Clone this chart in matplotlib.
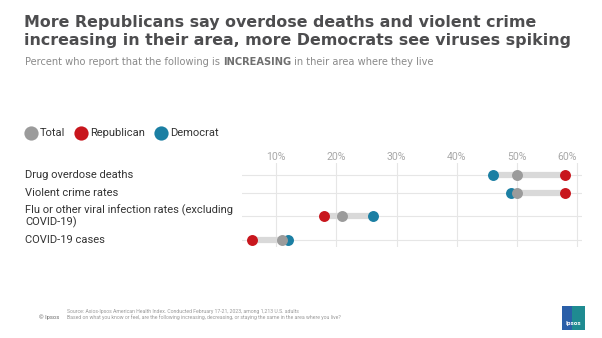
import matplotlib.pyplot as plt
from matplotlib.patches import Rectangle

# Share reporting each item is INCREASING in their area (%)
items = ['Drug overdose deaths', 'Violent crime rates',
         'Flu or other viral infection rates (excluding\nCOVID-19)', 'COVID-19 cases']
total = [50, 50, 21, 11]
republican = [58, 58, 18, 6]
democrat = [46, 49, 26, 12]
ticks = [10, 20, 30, 40, 50, 60]

GREY = '#9b9b9b'
RED = '#c8161d'
BLUE = '#1b7fa3'

plt.rcParams['font.family'] = ['Roboto', 'DejaVu Sans']

fig = plt.figure(figsize=(6.02, 3.38), dpi=100)
W, H = 602, 338

# overlay in pixel units for the text furniture
bg = fig.add_axes([0, 0, 1, 1])
bg.set_xlim(0, W)
bg.set_ylim(H, 0)
bg.axis('off')

# title and subtitle
title_lines = ['More Republicans say overdose deaths and violent crime',
               'increasing in their area, more Democrats see viruses spiking']
for y, line in zip([27.5, 45], title_lines):
    bg.text(24, y, line, family='DejaVu Sans', weight='bold', fontsize=11.4,
            color='#4d4d4f', va='baseline', ha='left')

t1 = bg.text(25, 65, 'Percent who report that the following is ',
             family='DejaVu Sans', fontsize=7.1, color='#8a8a8a', va='baseline')
fig.canvas.draw()
inv = bg.transData.inverted()
x1 = inv.transform((t1.get_window_extent().x1, 0))[0]
t2 = bg.text(x1, 65, 'INCREASING', family='DejaVu Sans', weight='bold',
             fontsize=7.1, color='#6f6f6f', va='baseline')
fig.canvas.draw()
x2 = inv.transform((t2.get_window_extent().x1, 0))[0]
bg.text(x2, 65, ' in their area where they live', family='DejaVu Sans',
        fontsize=7.1, color='#8a8a8a', va='baseline')

# legend
for cx, lab, col in [(31, 'Total', GREY), (81, 'Republican', RED), (161, 'Democrat', BLUE)]:
    bg.scatter([cx], [133], s=105, color=col, lw=0)
    bg.text(cx + 9, 133, lab, fontsize=8, color='#333333', va='center')

# row labels
row_y = [175, 193, 216, 240]
for y, lab in zip(row_y, items):
    bg.text(25, y, lab, fontsize=8.0, color='#333333', va='center', linespacing=1.1)

# footer
bg.text(39, 317, '© Ipsos', fontsize=4.2, color='#6b6b6b', va='center')
bg.text(67, 311, 'Source: Axios-Ipsos American Health Index. Conducted February 17-21, 2023, among 1,213 U.S. adults',
        fontsize=3.7, color='#9a9a9a', va='center')
bg.text(67, 317, 'Based on what you know or feel, are the following increasing, decreasing, or staying the same in the area where you live?',
        fontsize=3.7, color='#9a9a9a', va='center')

# logo
bg.add_patch(Rectangle((562, 306), 23, 24, color='#2a5fa8', lw=0))
bg.add_patch(Rectangle((572, 306), 13, 24, color='#1c9a8a', alpha=0.75, lw=0))
bg.text(573.5, 324, 'Ipsos', fontsize=4.6, color='white', weight='bold',
        ha='center', va='center')

# chart area (y in pixel rows)
ax = fig.add_axes([242 / W, 1 - 247 / H, (582 - 242) / W, (247 - 163) / H])
ax.set_xlim(4.3, 60.8)
ax.set_ylim(247, 163)
ax.patch.set_alpha(0)
for s in ax.spines.values():
    s.set_visible(False)
ax.xaxis.tick_top()
ax.set_xticks(ticks)
ax.set_xticklabels([f'{t}%' for t in ticks])
ax.get_xticklabels()[-1].set_ha('right')
ax.tick_params(axis='x', length=0, pad=1, labelsize=7.6, labelcolor='#a8a8a8')
ax.set_yticks([])
ax.grid(axis='x', color='#e6e6e6', lw=0.8)
ax.set_axisbelow(True)
for y in row_y:
    ax.axhline(y, color='#e6e6e6', lw=0.8, zorder=0)

for y, t, r, d in zip(row_y, total, republican, democrat):
    lo, hi = min(t, r, d), max(t, r, d)
    ax.plot([lo, hi], [y, y], color='#d9d9d9', lw=4.5, solid_capstyle='butt', zorder=1)
    ax.scatter([r], [y], s=62, color=RED, zorder=3, lw=0)
    ax.scatter([d], [y], s=62, color=BLUE, zorder=3, lw=0)
    ax.scatter([t], [y], s=62, color=GREY, zorder=4, lw=0)

fig.savefig('out.png', dpi=100, facecolor='white')
